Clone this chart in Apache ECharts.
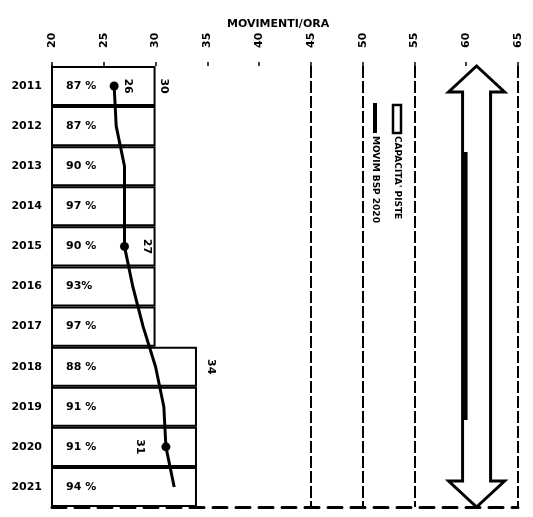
<!DOCTYPE html>
<html>
<head>
<meta charset="utf-8">
<script src="https://cdn.jsdelivr.net/npm/echarts@6/dist/echarts.min.js"></script>
<style>
  html, body { margin: 0; padding: 0; background: #fff; }
  #chart { width: 533px; height: 517px; }
</style>
</head>
<body>
<div id="chart"></div>
<script>
// dati
const years = ['2011', '2012', '2013', '2014', '2015', '2016', '2017', '2018', '2019', '2020', '2021']
const capacity = [30, 30, 30, 30, 30, 30, 30, 34, 34, 34, 34]
const utilisation = ['87 %', '87 %', '90 %', '97 %', '90 %', '93%', '97 %', '88 %', '91 %', '91 %', '94 %']
const movements = [26, 26.2, 27, 27, 27, 27.8, 28.8, 30, 30.8, 31, 31.8]
const capacityLabelled = [0, 7]
const movementMarked = [0, 4, 9]
const arrowValue = 61

const FONT = 'DejaVu Sans'
const GRID = { left: 52, right: 15, top: 66, bottom: 10 }

const chart = echarts.init(document.getElementById('chart'))

const rotLabel = {
  show: true,
  rotate: -90,
  align: 'center',
  verticalAlign: 'middle',
  color: '#000',
  fontFamily: FONT,
  fontWeight: 'bold',
  fontSize: 11,
}

// posizione delle etichette (lato, distanza)
const movementLabelPos = { 0: ['right', 9], 4: ['right', 18], 9: ['left', 22] }
const capacityLabelDist = { 0: 8, 7: 14 }

const option = {
  animation: false,
  backgroundColor: '#fff',
  title: {
    text: 'MOVIMENTI/ORA',
    left: 222,
    top: 14,
    textStyle: { fontFamily: FONT, fontWeight: 'bold', fontSize: 11, color: '#000' },
  },
  grid: GRID,
  xAxis: [
    {
      type: 'value',
      position: 'top',
      min: 20,
      max: 65,
      interval: 5,
      axisLine: { show: false },
      axisTick: { show: true, length: 4, lineStyle: { color: '#000', width: 1.5 } },
      axisLabel: {
        rotate: -90,
        margin: 18,
        color: '#000',
        fontFamily: FONT,
        fontWeight: 'bold',
        fontSize: 11,
      },
      splitLine: {
        show: true,
        lineStyle: {
          color: ['transparent', 'transparent', 'transparent', 'transparent', 'transparent',
            '#000', '#000', '#000', 'transparent', '#000'],
          width: 2,
          type: [12, 3],
        },
      },
    },
    {
      type: 'value',
      position: 'bottom',
      min: 20,
      max: 65,
      interval: 5,
      axisLine: { show: true, lineStyle: { color: '#000', width: 3, type: [14, 9] } },
      axisTick: { show: false },
      axisLabel: { show: false },
      splitLine: { show: false },
    },
  ],
  yAxis: {
    type: 'category',
    inverse: true,
    data: years,
    axisLine: { show: true, lineStyle: { color: '#000', width: 2 } },
    axisTick: { show: false },
    axisLabel: {
      margin: 10,
      color: '#000',
      fontFamily: FONT,
      fontWeight: 'bold',
      fontSize: 11,
    },
  },
  series: [
    {
      name: "CAPACITA' PISTE",
      type: 'bar',
      data: capacity,
      barCategoryGap: '0%',
      itemStyle: { color: '#fff', borderColor: '#000', borderWidth: 2 },
      label: {
        show: true,
        position: 'insideLeft',
        distance: 15,
        color: '#000',
        fontFamily: FONT,
        fontWeight: 'bold',
        fontSize: 11,
        formatter: (p) => utilisation[p.dataIndex],
      },
      z: 2,
    },
    {
      name: 'capacity-labels',
      type: 'bar',
      barGap: '-100%',
      barCategoryGap: '0%',
      silent: true,
      itemStyle: { color: 'transparent' },
      data: capacity.map((v, i) => ({
        value: v,
        label: capacityLabelled.includes(i)
          ? Object.assign({}, rotLabel, { position: 'right', distance: capacityLabelDist[i], formatter: String(v) })
          : { show: false },
      })),
      z: 1,
    },
    {
      name: 'MOVIM BSP 2020',
      type: 'line',
      data: movements.map((v, i) => {
        const pos = movementLabelPos[i]
        return {
          value: v,
          label: pos
            ? Object.assign({}, rotLabel, { position: pos[0], distance: pos[1], formatter: String(Math.round(v)) })
            : { show: false },
        }
      }),
      lineStyle: { color: '#000', width: 3 },
      itemStyle: { color: '#000' },
      symbol: 'circle',
      symbolSize: (v, p) => (movementMarked.includes(p.dataIndex) ? 9 : 0),
      z: 5,
    },
  ],
}

chart.setOption(option)

// freccia doppia e legenda ruotata
const cx = chart.convertToPixel({ xAxisIndex: 0 }, arrowValue)
const yTop = GRID.top
const yBot = 517 - GRID.bottom
const headH = 26
const headW = 28
const shaftW = 14

chart.setOption({
  graphic: [
    {
      type: 'polygon',
      z: 10,
      shape: {
        points: [
          [cx, yTop], [cx + headW, yTop + headH], [cx + shaftW, yTop + headH],
          [cx + shaftW, yBot - headH], [cx + headW, yBot - headH], [cx, yBot],
          [cx - headW, yBot - headH], [cx - shaftW, yBot - headH],
          [cx - shaftW, yTop + headH], [cx - headW, yTop + headH],
        ],
      },
      style: { fill: '#fff', stroke: '#000', lineWidth: 3 },
    },
    {
      type: 'rect',
      z: 11,
      shape: { x: cx - shaftW, y: 152, width: 5, height: 268 },
      style: { fill: '#000' },
    },
    {
      type: 'group',
      x: 375,
      y: 103,
      rotation: -Math.PI / 2,
      z: 10,
      children: [
        { type: 'line', shape: { x1: 0, y1: 0, x2: 30, y2: 0 }, style: { stroke: '#000', lineWidth: 4 } },
        {
          type: 'text',
          x: 33,
          y: 0,
          style: {
            text: 'MOVIM BSP 2020',
            fill: '#000',
            font: 'bold 9px "DejaVu Sans"',
            textVerticalAlign: 'middle',
          },
        },
      ],
    },
    {
      type: 'group',
      x: 397,
      y: 105,
      rotation: -Math.PI / 2,
      z: 10,
      children: [
        { type: 'rect', shape: { x: 0, y: -4, width: 28, height: 8 }, style: { fill: '#fff', stroke: '#000', lineWidth: 2.5 } },
        {
          type: 'text',
          x: 31,
          y: 0,
          style: {
            text: "CAPACITA' PISTE",
            fill: '#000',
            font: 'bold 9px "DejaVu Sans"',
            textVerticalAlign: 'middle',
          },
        },
      ],
    },
  ],
})
</script>
</body>
</html>
